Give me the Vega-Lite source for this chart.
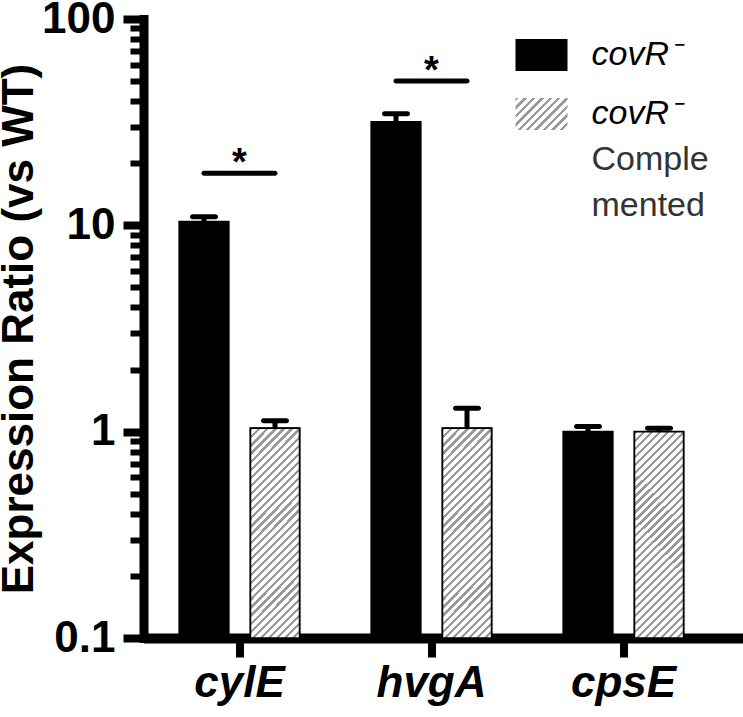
{
  "$schema": "https://vega.github.io/schema/vega-lite/v6.json",
  "autosize": {"type": "none"},
  "padding": {"left": 143.5, "top": 19, "right": 0, "bottom": 79},
  "width": 600,
  "height": 619,
  "background": "white",
  "config": {"view": {"stroke": null}, "font": "Liberation Sans", "style": {"guide-label": {"lineHeight": 46}}},
  "datasets": {
    "bars": [
      {"gene": "cylE", "group": "covR", "value": 10.4, "upper": 11.0},
      {"gene": "cylE", "group": "comp", "value": 1.04, "upper": 1.13},
      {"gene": "hvgA", "group": "covR", "value": 31.7, "upper": 34.7},
      {"gene": "hvgA", "group": "comp", "value": 1.04, "upper": 1.30},
      {"gene": "cpsE", "group": "covR", "value": 1.0, "upper": 1.06},
      {"gene": "cpsE", "group": "comp", "value": 1.0, "upper": 1.04}
    ],
    "sig": [
      {"gene": "cylE", "value": 17.9},
      {"gene": "hvgA", "value": 50.1}
    ]
  },
  "encoding": {
    "x": {
      "field": "gene", "type": "nominal",
      "scale": {"domain": ["cylE", "hvgA", "cpsE"], "paddingInner": 0, "paddingOuter": 0.0625, "align": 0},
      "axis": {
        "title": null, "labelAngle": 0,
        "labelFont": "Liberation Sans", "labelFontSize": 44, "labelFontWeight": "bold", "labelFontStyle": "italic", "labelColor": "black",
        "domainColor": "black", "domainWidth": 10, "tickColor": "black", "tickWidth": 8, "tickSize": 19, "labelPadding": 4
      }
    },
    "y": {
      "field": "value", "type": "quantitative",
      "scale": {"type": "log", "domain": [0.1, 100], "nice": false},
      "axis": {
        "title": "Expression Ratio (vs WT)",
        "values": [0.1, 0.2, 0.3, 0.4, 0.5, 0.6, 0.7, 0.8, 0.9, 1, 2, 3, 4, 5, 6, 7, 8, 9, 10, 20, 30, 40, 50, 60, 70, 80, 90, 100],
        "labelExpr": "abs(log(datum.value)/LN10 - round(log(datum.value)/LN10)) < 0.001 ? format(datum.value, '~g') : ''",
        "labelOverlap": false, "labelFlush": false, "grid": false,
        "labelFont": "Liberation Sans", "labelFontSize": 44, "labelFontWeight": "bold", "labelColor": "black",
        "labelPadding": 8,
        "domainColor": "black", "domainWidth": 9, "domainCap": "square",
        "tickColor": "black",
        "tickSize": {"condition": {"test": "abs(log(datum.value)/LN10 - round(log(datum.value)/LN10)) < 0.001", "value": 20.5}, "value": 13.5},
        "tickWidth": {"condition": {"test": "abs(log(datum.value)/LN10 - round(log(datum.value)/LN10)) < 0.001", "value": 8}, "value": 6},
        "titleFont": "Liberation Sans", "titleFontSize": 44, "titleFontWeight": "bold", "titleColor": "black", "titlePadding": 0
      }
    }
  },
  "layer": [
    {
      "data": {"name": "bars"},
      "mark": {"type": "bar", "stroke": "black", "strokeWidth": 2, "fill": {"gradient": "linear", "x1": 0, "y1": 0, "x2": 1.172, "y2": 0.721, "stops": [
                  {"offset": 0, "color": "#9a9a9a"}, {"offset": 0.04, "color": "#9a9a9a"}, {"offset": 0.04, "color": "#ffffff"}, {"offset": 0.1, "color": "#ffffff"},
                  {"offset": 0.1, "color": "#9a9a9a"}, {"offset": 0.14, "color": "#9a9a9a"}, {"offset": 0.14, "color": "#ffffff"}, {"offset": 0.2, "color": "#ffffff"},
                  {"offset": 0.2, "color": "#9a9a9a"}, {"offset": 0.24, "color": "#9a9a9a"}, {"offset": 0.24, "color": "#ffffff"}, {"offset": 0.3, "color": "#ffffff"},
                  {"offset": 0.3, "color": "#9a9a9a"}, {"offset": 0.34, "color": "#9a9a9a"}, {"offset": 0.34, "color": "#ffffff"}, {"offset": 0.4, "color": "#ffffff"},
                  {"offset": 0.4, "color": "#9a9a9a"}, {"offset": 0.44, "color": "#9a9a9a"}, {"offset": 0.44, "color": "#ffffff"}, {"offset": 0.5, "color": "#ffffff"},
                  {"offset": 0.5, "color": "#9a9a9a"}, {"offset": 0.54, "color": "#9a9a9a"}, {"offset": 0.54, "color": "#ffffff"}, {"offset": 0.6, "color": "#ffffff"},
                  {"offset": 0.6, "color": "#9a9a9a"}, {"offset": 0.64, "color": "#9a9a9a"}, {"offset": 0.64, "color": "#ffffff"}, {"offset": 0.7, "color": "#ffffff"},
                  {"offset": 0.7, "color": "#9a9a9a"}, {"offset": 0.74, "color": "#9a9a9a"}, {"offset": 0.74, "color": "#ffffff"}, {"offset": 0.8, "color": "#ffffff"},
                  {"offset": 0.8, "color": "#9a9a9a"}, {"offset": 0.84, "color": "#9a9a9a"}, {"offset": 0.84, "color": "#ffffff"}, {"offset": 0.9, "color": "#ffffff"},
                  {"offset": 0.9, "color": "#9a9a9a"}, {"offset": 0.94, "color": "#9a9a9a"}, {"offset": 0.94, "color": "#ffffff"}, {"offset": 1, "color": "#ffffff"}
                ]}},
      "encoding": {
        "y2": {"datum": 0.1},
        "xOffset": {"field": "group", "type": "nominal", "scale": {"domain": ["covR", "comp"], "paddingInner": 0.31, "paddingOuter": 0.507}},
        "opacity": {
          "field": "group", "type": "nominal",
          "scale": {"domain": ["comp", "covR"], "range": [1, 1]},
          "legend": {
            "orient": "none", "legendX": 371, "legendY": 68, "title": null, "padding": 0,
            "values": ["comp"],
            "symbolType": "M-1,-0.615H1V0.615H-1Z", "symbolSize": 2704,
            "symbolStrokeColor": "black", "symbolStrokeWidth": 2,
            "labelExpr": "'covR⁻'", "labelFont": "Liberation Sans", "labelFontSize": 34, "labelFontStyle": "italic", "labelColor": "black",
            "labelOffset": 23
          }
        }
      }
    },
    {
      "data": {"name": "bars"},
      "mark": {"type": "bar", "stroke": "black"},
      "encoding": {
        "y2": {"datum": 0.1},
        "xOffset": {"field": "group", "type": "nominal", "scale": {"domain": ["covR", "comp"], "paddingInner": 0.31, "paddingOuter": 0.507}},
        "fill": {
          "condition": {"test": "datum.group === 'comp'", "value": {"gradient": "linear", "x1": 0, "y1": 0, "x2": 0.2754, "y2": 1.1706, "stops": [
            {"offset": 0, "color": "#9a9a9a"}, {"offset": 0.0125, "color": "#9a9a9a"}, {"offset": 0.0125, "color": "#ffffff"}, {"offset": 0.03125, "color": "#ffffff"},
            {"offset": 0.03125, "color": "#9a9a9a"}, {"offset": 0.04375, "color": "#9a9a9a"}, {"offset": 0.04375, "color": "#ffffff"}, {"offset": 0.0625, "color": "#ffffff"},
            {"offset": 0.0625, "color": "#9a9a9a"}, {"offset": 0.075, "color": "#9a9a9a"}, {"offset": 0.075, "color": "#ffffff"}, {"offset": 0.09375, "color": "#ffffff"},
            {"offset": 0.09375, "color": "#9a9a9a"}, {"offset": 0.10625, "color": "#9a9a9a"}, {"offset": 0.10625, "color": "#ffffff"}, {"offset": 0.125, "color": "#ffffff"},
            {"offset": 0.125, "color": "#9a9a9a"}, {"offset": 0.1375, "color": "#9a9a9a"}, {"offset": 0.1375, "color": "#ffffff"}, {"offset": 0.15625, "color": "#ffffff"},
            {"offset": 0.15625, "color": "#9a9a9a"}, {"offset": 0.16875, "color": "#9a9a9a"}, {"offset": 0.16875, "color": "#ffffff"}, {"offset": 0.1875, "color": "#ffffff"},
            {"offset": 0.1875, "color": "#9a9a9a"}, {"offset": 0.2, "color": "#9a9a9a"}, {"offset": 0.2, "color": "#ffffff"}, {"offset": 0.21875, "color": "#ffffff"},
            {"offset": 0.21875, "color": "#9a9a9a"}, {"offset": 0.23125, "color": "#9a9a9a"}, {"offset": 0.23125, "color": "#ffffff"}, {"offset": 0.25, "color": "#ffffff"},
            {"offset": 0.25, "color": "#9a9a9a"}, {"offset": 0.2625, "color": "#9a9a9a"}, {"offset": 0.2625, "color": "#ffffff"}, {"offset": 0.28125, "color": "#ffffff"},
            {"offset": 0.28125, "color": "#9a9a9a"}, {"offset": 0.29375, "color": "#9a9a9a"}, {"offset": 0.29375, "color": "#ffffff"}, {"offset": 0.3125, "color": "#ffffff"},
            {"offset": 0.3125, "color": "#9a9a9a"}, {"offset": 0.325, "color": "#9a9a9a"}, {"offset": 0.325, "color": "#ffffff"}, {"offset": 0.34375, "color": "#ffffff"},
            {"offset": 0.34375, "color": "#9a9a9a"}, {"offset": 0.35625, "color": "#9a9a9a"}, {"offset": 0.35625, "color": "#ffffff"}, {"offset": 0.375, "color": "#ffffff"},
            {"offset": 0.375, "color": "#9a9a9a"}, {"offset": 0.3875, "color": "#9a9a9a"}, {"offset": 0.3875, "color": "#ffffff"}, {"offset": 0.40625, "color": "#ffffff"},
            {"offset": 0.40625, "color": "#9a9a9a"}, {"offset": 0.41875, "color": "#9a9a9a"}, {"offset": 0.41875, "color": "#ffffff"}, {"offset": 0.4375, "color": "#ffffff"},
            {"offset": 0.4375, "color": "#9a9a9a"}, {"offset": 0.45, "color": "#9a9a9a"}, {"offset": 0.45, "color": "#ffffff"}, {"offset": 0.46875, "color": "#ffffff"},
            {"offset": 0.46875, "color": "#9a9a9a"}, {"offset": 0.48125, "color": "#9a9a9a"}, {"offset": 0.48125, "color": "#ffffff"}, {"offset": 0.5, "color": "#ffffff"},
            {"offset": 0.5, "color": "#9a9a9a"}, {"offset": 0.5125, "color": "#9a9a9a"}, {"offset": 0.5125, "color": "#ffffff"}, {"offset": 0.53125, "color": "#ffffff"},
            {"offset": 0.53125, "color": "#9a9a9a"}, {"offset": 0.54375, "color": "#9a9a9a"}, {"offset": 0.54375, "color": "#ffffff"}, {"offset": 0.5625, "color": "#ffffff"},
            {"offset": 0.5625, "color": "#9a9a9a"}, {"offset": 0.575, "color": "#9a9a9a"}, {"offset": 0.575, "color": "#ffffff"}, {"offset": 0.59375, "color": "#ffffff"},
            {"offset": 0.59375, "color": "#9a9a9a"}, {"offset": 0.60625, "color": "#9a9a9a"}, {"offset": 0.60625, "color": "#ffffff"}, {"offset": 0.625, "color": "#ffffff"},
            {"offset": 0.625, "color": "#9a9a9a"}, {"offset": 0.6375, "color": "#9a9a9a"}, {"offset": 0.6375, "color": "#ffffff"}, {"offset": 0.65625, "color": "#ffffff"},
            {"offset": 0.65625, "color": "#9a9a9a"}, {"offset": 0.66875, "color": "#9a9a9a"}, {"offset": 0.66875, "color": "#ffffff"}, {"offset": 0.6875, "color": "#ffffff"},
            {"offset": 0.6875, "color": "#9a9a9a"}, {"offset": 0.7, "color": "#9a9a9a"}, {"offset": 0.7, "color": "#ffffff"}, {"offset": 0.71875, "color": "#ffffff"},
            {"offset": 0.71875, "color": "#9a9a9a"}, {"offset": 0.73125, "color": "#9a9a9a"}, {"offset": 0.73125, "color": "#ffffff"}, {"offset": 0.75, "color": "#ffffff"},
            {"offset": 0.75, "color": "#9a9a9a"}, {"offset": 0.7625, "color": "#9a9a9a"}, {"offset": 0.7625, "color": "#ffffff"}, {"offset": 0.78125, "color": "#ffffff"},
            {"offset": 0.78125, "color": "#9a9a9a"}, {"offset": 0.79375, "color": "#9a9a9a"}, {"offset": 0.79375, "color": "#ffffff"}, {"offset": 0.8125, "color": "#ffffff"},
            {"offset": 0.8125, "color": "#9a9a9a"}, {"offset": 0.825, "color": "#9a9a9a"}, {"offset": 0.825, "color": "#ffffff"}, {"offset": 0.84375, "color": "#ffffff"},
            {"offset": 0.84375, "color": "#9a9a9a"}, {"offset": 0.85625, "color": "#9a9a9a"}, {"offset": 0.85625, "color": "#ffffff"}, {"offset": 0.875, "color": "#ffffff"},
            {"offset": 0.875, "color": "#9a9a9a"}, {"offset": 0.8875, "color": "#9a9a9a"}, {"offset": 0.8875, "color": "#ffffff"}, {"offset": 0.90625, "color": "#ffffff"},
            {"offset": 0.90625, "color": "#9a9a9a"}, {"offset": 0.91875, "color": "#9a9a9a"}, {"offset": 0.91875, "color": "#ffffff"}, {"offset": 0.9375, "color": "#ffffff"},
            {"offset": 0.9375, "color": "#9a9a9a"}, {"offset": 0.95, "color": "#9a9a9a"}, {"offset": 0.95, "color": "#ffffff"}, {"offset": 0.96875, "color": "#ffffff"},
            {"offset": 0.96875, "color": "#9a9a9a"}, {"offset": 0.98125, "color": "#9a9a9a"}, {"offset": 0.98125, "color": "#ffffff"}, {"offset": 1, "color": "#ffffff"}
          ]}},
          "value": "black"
        },
        "strokeDash": {
          "field": "group", "type": "nominal",
          "scale": {"domain": ["covR", "comp"], "range": [[1, 0], [1, 0]]},
          "legend": {
            "orient": "none", "legendX": 371, "legendY": 9, "title": null, "padding": 0,
            "values": ["covR"],
            "symbolType": "M-1,-0.615H1V0.615H-1Z", "symbolSize": 2704,
            "symbolStrokeColor": "black", "symbolStrokeWidth": 2,
            "labelExpr": "'covR⁻'", "labelFont": "Liberation Sans", "labelFontSize": 34, "labelFontStyle": "italic", "labelColor": "black",
            "labelOffset": 23,
            "encode": {"symbols": {
              "fill": {"value": "black"},
              "stroke": {"value": "black"},
              "strokeWidth": {"value": 2}
            }}
          }
        },
        "strokeWidth": {
          "field": "gene", "type": "ordinal",
          "scale": {"domain": ["cylE", "hvgA", "cpsE"], "range": [1.5, 1.5, 1.5]},
          "legend": {
            "orient": "none", "legendX": 371, "legendY": 114, "title": null, "padding": 0,
            "values": ["cylE"],
            "symbolType": "M-1,-0.615H1V0.615H-1Z", "symbolSize": 2704, "symbolOpacity": 0,
            "labelExpr": "['Comple', 'mented']", "labelFont": "Liberation Sans", "labelFontSize": 34, "labelColor": "#333333",
            "labelOffset": 23,
            "encode": {
              "symbols": {"opacity": {"value": 0}},
              "labels": {"lineHeight": {"value": 46}}
            }
          }
        }
      }
    },
    {
      "data": {"name": "bars"},
      "mark": {"type": "rule", "color": "black", "strokeWidth": 5},
      "encoding": {
        "xOffset": {"field": "group", "type": "nominal", "scale": {"domain": ["covR", "comp"], "paddingInner": 0.31, "paddingOuter": 0.507}},
        "y2": {"field": "upper"}
      }
    },
    {
      "data": {"name": "bars"},
      "mark": {"type": "tick", "color": "black", "size": 28, "thickness": 5, "cornerRadius": 2.5, "opacity": 1},
      "encoding": {
        "xOffset": {"field": "group", "type": "nominal", "scale": {"domain": ["covR", "comp"], "paddingInner": 0.31, "paddingOuter": 0.507}},
        "y": {"field": "upper", "type": "quantitative"}
      }
    },
    {
      "data": {"name": "sig"},
      "mark": {"type": "tick", "color": "black", "size": 76, "thickness": 5, "cornerRadius": 2.5, "opacity": 1},
      "encoding": {}
    },
    {
      "data": {"name": "sig"},
      "mark": {"type": "text", "text": "*", "font": "Liberation Sans", "fontSize": 38, "fontWeight": "bold", "color": "black", "baseline": "alphabetic", "dy": 2},
      "encoding": {}
    }
  ]
}
